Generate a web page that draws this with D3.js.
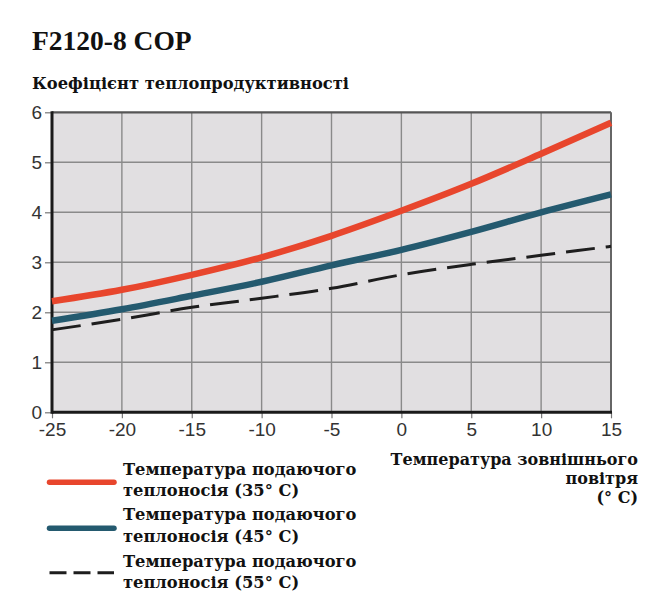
<!DOCTYPE html>
<html>
<head>
<meta charset="utf-8">
<script src="https://cdn.jsdelivr.net/npm/d3@7"></script>
<style>
  html, body { margin: 0; padding: 0; background: #fff; }
  svg { display: block; }
</style>
</head>
<body>
<svg id="chart" width="651" height="610"></svg>
<script>
// ---- data ----
const temps = [-25, -20, -15, -10, -5, 0, 5, 10, 15];
const cop35 = [2.22, 2.45, 2.75, 3.10, 3.53, 4.03, 4.57, 5.17, 5.79];
const cop45 = [1.83, 2.06, 2.33, 2.61, 2.94, 3.25, 3.61, 4.00, 4.36];
const cop55 = [1.65, 1.86, 2.10, 2.28, 2.48, 2.75, 2.96, 3.14, 3.32];
const xTicks = [-25, -20, -15, -10, -5, 0, 5, 10, 15];
const yTicks = [0, 1, 2, 3, 4, 5, 6];
const titleText = "F2120-8 COP";
const yTitle = "Коефіцієнт теплопродуктивності";
const xTitleLines = ["Температура зовнішнього", "повітря", "(° C)"];
const legendLabels = [
  ["Температура подаючого", "теплоносія (35° C)"],
  ["Температура подаючого", "теплоносія (45° C)"],
  ["Температура подаючого", "теплоносія (55° C)"]
];

const seriesList = [
  { values: cop35, color: "#e8462d", width: 6.5, dash: null },
  { values: cop45, color: "#245a6f", width: 6.5, dash: null },
  { values: cop55, color: "#1e1e1e", width: 3, dash: "29,11" }
];

const svg = d3.select("#chart");
const x = d3.scaleLinear().domain([-25, 15]).range([52, 611]);
const y = d3.scaleLinear().domain([0, 6]).range([412.3, 112.3]);

// plot background
svg.append("rect")
  .attr("x", x(-25)).attr("y", y(6))
  .attr("width", x(15) - x(-25)).attr("height", y(0) - y(6))
  .attr("fill", "#e1dfe1");

// grid lines
svg.append("g").selectAll("line").data(xTicks.slice(1, -1)).join("line")
  .attr("x1", d => x(d)).attr("x2", d => x(d))
  .attr("y1", y(6)).attr("y2", y(0))
  .attr("stroke", "#8a8a8a").attr("stroke-width", 1.4);
svg.append("g").selectAll("line").data(yTicks.slice(1, -1)).join("line")
  .attr("x1", x(-25)).attr("x2", x(15))
  .attr("y1", d => y(d)).attr("y2", d => y(d))
  .attr("stroke", "#8a8a8a").attr("stroke-width", 1.4);

// top and right borders
svg.append("line").attr("x1", x(-25)).attr("x2", x(15)).attr("y1", y(6)).attr("y2", y(6))
  .attr("stroke", "#555").attr("stroke-width", 2.2);
svg.append("line").attr("x1", x(15)).attr("x2", x(15)).attr("y1", y(6)).attr("y2", y(0))
  .attr("stroke", "#666").attr("stroke-width", 2);

// axes
const fmt = d => String(d);
const xAxis = d3.axisBottom(x).tickValues(xTicks).tickSize(6).tickPadding(4).tickFormat(fmt);
const yAxis = d3.axisLeft(y).tickValues(yTicks).tickSize(7).tickPadding(3).tickFormat(fmt);

const gx = svg.append("g").attr("transform", `translate(0,${y(0)})`).call(xAxis);
const gy = svg.append("g").attr("transform", `translate(${x(-25)},0)`).call(yAxis);
[gx, gy].forEach(g => {
  g.select(".domain").remove();
  g.selectAll(".tick line").attr("stroke", "#777").attr("stroke-width", 1.2);
  g.selectAll(".tick text")
    .attr("fill", "#333")
    .style("font-family", "'Liberation Sans', Arial, sans-serif")
    .style("font-size", "19px");
});
gx.selectAll(".tick text").attr("dy", "0.71em");
gy.selectAll(".tick text").attr("dy", "0.3em");

// thick left and bottom axis lines
svg.append("line").attr("x1", x(-25)).attr("x2", x(-25)).attr("y1", y(6) - 1).attr("y2", y(0) + 1.5)
  .attr("stroke", "#1a1a1a").attr("stroke-width", 3);
svg.append("line").attr("x1", x(-25)).attr("x2", x(15) + 1).attr("y1", y(0)).attr("y2", y(0))
  .attr("stroke", "#1a1a1a").attr("stroke-width", 3);

// series lines
const line = d3.line()
  .x((d, i) => x(temps[i]))
  .y(d => y(d))
  .curve(d3.curveMonotoneX);

seriesList.slice().reverse().forEach(s => {
  const p = svg.append("path")
    .attr("d", line(s.values))
    .attr("fill", "none")
    .attr("stroke", s.color)
    .attr("stroke-width", s.width);
  if (s.dash) p.attr("stroke-dasharray", s.dash);
});

// titles
const serif = "'DejaVu Serif', 'Liberation Serif', serif";
svg.append("text").attr("x", 32).attr("y", 49.5)
  .style("font-family", "'Liberation Serif', serif").style("font-weight", "bold")
  .style("font-size", "27.5px").attr("fill", "#111").text(titleText);
svg.append("text").attr("x", 32).attr("y", 88.5)
  .style("font-family", serif).style("font-weight", "bold")
  .style("font-size", "16.3px").attr("fill", "#111").text(yTitle);

// x-axis title
const xtBase = [465, 484, 503];
xTitleLines.forEach((t, i) => {
  svg.append("text").attr("x", 638).attr("y", xtBase[i])
    .attr("text-anchor", "end")
    .style("font-family", serif).style("font-weight", "bold")
    .style("font-size", "16px").attr("fill", "#111").text(t);
});

// legend
const legY = [482.3, 528.3, 572.7];
const legText = [[475, 496], [520, 542], [567, 588]];
seriesList.forEach((s, i) => {
  const l = svg.append("line")
    .attr("x1", 49.5).attr("x2", 114)
    .attr("y1", legY[i]).attr("y2", legY[i])
    .attr("stroke", s.color)
    .attr("stroke-width", s.dash ? 3 : 5.5)
    .attr("stroke-linecap", s.dash ? "butt" : "round");
  if (s.dash) l.attr("stroke-dasharray", "17,7");
  legendLabels[i].forEach((t, j) => {
    svg.append("text").attr("x", 123).attr("y", legText[i][j])
      .style("font-family", serif).style("font-weight", "bold")
      .style("font-size", "16.3px").attr("fill", "#111").text(t);
  });
});
</script>
</body>
</html>
